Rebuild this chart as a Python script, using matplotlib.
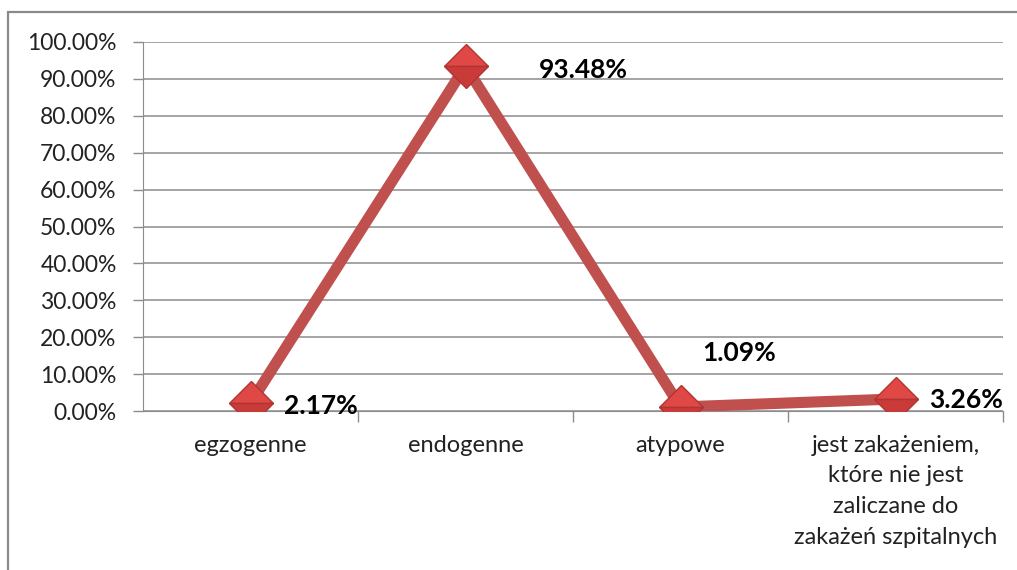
import matplotlib.pyplot as plt
from matplotlib.patches import Rectangle
from matplotlib.ticker import FuncFormatter, FixedLocator

plt.rcParams['font.family'] = ['Lato', 'DejaVu Sans']

categories = ['egzogenne', 'endogenne', 'atypowe',
              'jest zakażeniem,\nktóre nie jest\nzaliczane do\nzakażeń szpitalnych']
values = [2.17, 93.48, 1.09, 3.26]
labels = ['2.17%', '93.48%', '1.09%', '3.26%']
# label offsets in points (dx, dy) from each marker
offsets = [(24, -2), (53, -3), (16, 39), (24, -1)]

fig = plt.figure(figsize=(10.17, 5.70), dpi=100)
fig.patches.append(Rectangle((8 / 1017, -0.05), 1.1, 1 - 12 / 570 + 0.05,
                             transform=fig.transFigure, fill=False,
                             edgecolor='#8a8a8a', linewidth=1.6))

ax = fig.add_axes([143 / 1017, 1 - 411 / 570, 860 / 1017, 369 / 570])
x = list(range(len(categories)))
ax.plot(x, values, color='#C0504D', linewidth=8, solid_joinstyle='miter', zorder=3)
# two-tone diamonds: lighter upper half, darker lower half
ax.plot(x, values, linestyle='none', marker='D', markersize=22,
        fillstyle='top', markerfacecolor='#E04846', markerfacecoloralt='#C83B39',
        markeredgecolor='#B03431', markeredgewidth=1.0, zorder=4)

for xi, v, lab, (dx, dy) in zip(x, values, labels, offsets):
    ax.annotate(lab, (xi, v), xytext=(dx, dy), textcoords='offset points',
                ha='left', va='center', fontsize=19, fontweight='bold',
                color='black', zorder=5)

ax.set_xlim(-0.5, len(categories) - 0.5)
ax.set_ylim(0, 100)
ax.set_yticks(range(0, 101, 10))
ax.yaxis.set_major_formatter(FuncFormatter(lambda v, p: f'{v:.2f}%'))
ax.grid(axis='y', color='#8c8c8c', linewidth=1.1)
ax.set_axisbelow(True)

ax.set_xticks(x)
ax.set_xticklabels(categories, fontsize=17, color='#222222', linespacing=1.58)
ax.xaxis.set_minor_locator(FixedLocator([i + 0.5 for i in x]))
ax.tick_params(axis='x', which='major', length=0, pad=17)
ax.tick_params(axis='x', which='minor', length=8, color='#8c8c8c', width=1)
ax.tick_params(axis='y', length=7, color='#8c8c8c', width=1, labelsize=16.5,
               labelcolor='#222222', pad=12)

for side in ['top', 'right']:
    ax.spines[side].set_visible(False)
ax.spines['left'].set_color('#8c8c8c')
ax.spines['bottom'].set_color('#8c8c8c')
for lbl in ax.get_xticklabels():
    lbl.set_verticalalignment('top')

fig.savefig('out.png', dpi=100)
